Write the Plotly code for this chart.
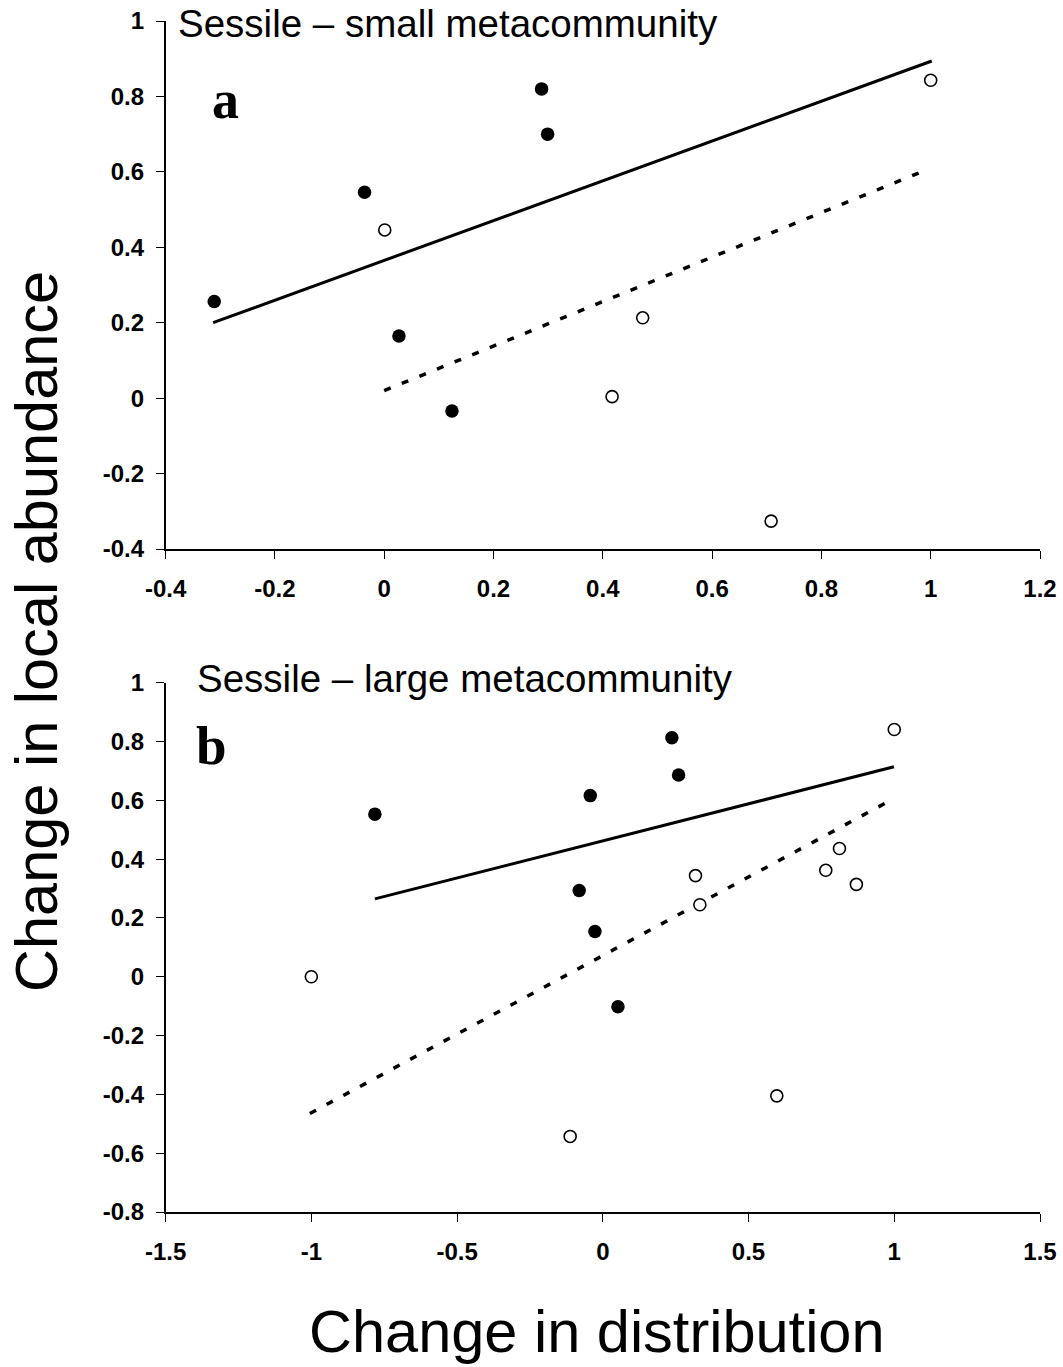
import plotly.graph_objects as go

# ---------------- data ----------------
# Panel a: Sessile - small metacommunity
a_filled_x = [-0.311, -0.036, 0.027, 0.124, 0.288, 0.299]
a_filled_y = [0.256, 0.546, 0.165, -0.034, 0.820, 0.700]
a_open_x = [0.001, 0.417, 0.473, 0.708, 1.0]
a_open_y = [0.446, 0.004, 0.213, -0.326, 0.843]
a_solid_x = [-0.313, 1.002]
a_solid_y = [0.200, 0.894]
a_dash_x = [0.0, 0.995]
a_dash_y = [0.020, 0.607]

# Panel b: Sessile - large metacommunity
b_filled_x = [-0.782, -0.081, -0.043, -0.027, 0.052, 0.237, 0.260]
b_filled_y = [0.553, 0.293, 0.616, 0.154, -0.102, 0.813, 0.686]
b_open_x = [-1.0, -0.112, 0.318, 0.333, 0.597, 0.765, 0.812, 0.870, 1.0]
b_open_y = [0.0, -0.543, 0.344, 0.245, -0.405, 0.362, 0.436, 0.314, 0.841]
b_solid_x = [-0.782, 0.999]
b_solid_y = [0.265, 0.714]
b_dash_x = [-1.005, 0.993]
b_dash_y = [-0.465, 0.603]

# tick labels
a_xticks = [-0.4, -0.2, 0, 0.2, 0.4, 0.6, 0.8, 1, 1.2]
a_xlabels = ["-0.4", "-0.2", "0", "0.2", "0.4", "0.6", "0.8", "1", "1.2"]
a_yticks = [-0.4, -0.2, 0, 0.2, 0.4, 0.6, 0.8, 1]
a_ylabels = ["-0.4", "-0.2", "0", "0.2", "0.4", "0.6", "0.8", "1"]
b_xticks = [-1.5, -1, -0.5, 0, 0.5, 1, 1.5]
b_xlabels = ["-1.5", "-1", "-0.5", "0", "0.5", "1", "1.5"]
b_yticks = [-0.8, -0.6, -0.4, -0.2, 0, 0.2, 0.4, 0.6, 0.8, 1]
b_ylabels = ["-0.8", "-0.6", "-0.4", "-0.2", "0", "0.2", "0.4", "0.6", "0.8", "1"]

panel_titles = ["Sessile \u2013 small metacommunity", "Sessile \u2013 large metacommunity"]
panel_letters = ["a", "b"]
x_title = "Change in distribution"
y_title = "Change in local abundance"

# ---------------- figure ----------------
W, H = 1063, 1367
fig = go.Figure()

line_kw = dict(color="black", width=3)


def add_panel(xa, ya, fx, fy, ox, oy, sx, sy, dx, dy):
    fig.add_trace(go.Scatter(x=sx, y=sy, mode="lines", line=line_kw,
                             xaxis=xa, yaxis=ya, showlegend=False, hoverinfo="skip"))
    fig.add_trace(go.Scatter(x=dx, y=dy, mode="lines",
                             line=dict(color="black", width=3.5, dash="7px,12px"),
                             xaxis=xa, yaxis=ya, showlegend=False, hoverinfo="skip"))
    fig.add_trace(go.Scatter(x=fx, y=fy, mode="markers",
                             marker=dict(color="black", size=13.5, line=dict(width=0)),
                             xaxis=xa, yaxis=ya, showlegend=False, cliponaxis=False))
    fig.add_trace(go.Scatter(x=ox, y=oy, mode="markers",
                             marker=dict(color="white", size=12,
                                         line=dict(color="black", width=1.6)),
                             xaxis=xa, yaxis=ya, showlegend=False, cliponaxis=False))


add_panel("x", "y", a_filled_x, a_filled_y, a_open_x, a_open_y,
          a_solid_x, a_solid_y, a_dash_x, a_dash_y)
add_panel("x2", "y2", b_filled_x, b_filled_y, b_open_x, b_open_y,
          b_solid_x, b_solid_y, b_dash_x, b_dash_y)

tick_font = dict(family="Liberation Sans, Arial, sans-serif", size=24,
                 color="black", weight="bold")


def px_x(p):
    return p / W


def px_y(p):
    return 1 - p / H


xdom = [px_x(165.6), px_x(1040)]
common = dict(showgrid=False, zeroline=False, showline=True, linecolor="black",
              linewidth=1.5, ticks="outside", ticklen=8, tickwidth=1.3,
              tickcolor="black", tickfont=tick_font, mirror=False, automargin=False)

fig.update_layout(
    width=W, height=H,
    margin=dict(l=0, r=0, t=0, b=0, pad=0, autoexpand=False),
    paper_bgcolor="white", plot_bgcolor="white",
    xaxis=dict(domain=xdom, range=[-0.4, 1.2], tickvals=a_xticks, ticktext=a_xlabels,
               anchor="y", ticklabelstandoff=9, **common),
    yaxis=dict(domain=[px_y(549), px_y(21)], range=[-0.4, 1], tickvals=a_yticks,
               ticktext=a_ylabels, anchor="x", ticklabelstandoff=7, **common),
    xaxis2=dict(domain=xdom, range=[-1.5, 1.5], tickvals=b_xticks, ticktext=b_xlabels,
                anchor="y2", ticklabelstandoff=9, **common),
    yaxis2=dict(domain=[px_y(1212), px_y(682.7)], range=[-0.8, 1], tickvals=b_yticks,
                ticktext=b_ylabels, anchor="x2", ticklabelstandoff=7, **common),
)

sans = "Liberation Sans, Arial, sans-serif"
serif = "Liberation Serif, Times New Roman, serif"

annots = [
    dict(text=panel_titles[0], x=px_x(176), y=px_y(24), xanchor="left", yanchor="middle",
         font=dict(family=sans, size=38.5, color="black")),
    dict(text=panel_titles[1], x=px_x(195), y=px_y(678), xanchor="left", yanchor="middle",
         font=dict(family=sans, size=38.5, color="black")),
    dict(text=panel_letters[0], x=px_x(210), y=px_y(100), xanchor="left", yanchor="middle",
         font=dict(family=serif, size=54, color="black", weight="bold")),
    dict(text=panel_letters[1], x=px_x(194), y=px_y(746), xanchor="left", yanchor="middle",
         font=dict(family=serif, size=55, color="black", weight="bold")),
    dict(text=x_title, x=px_x(597), y=px_y(1331), xanchor="center", yanchor="middle",
         font=dict(family=sans, size=59.5, color="black")),
    dict(text=y_title, x=px_x(37), y=px_y(632), xanchor="center", yanchor="middle",
         textangle=-90, font=dict(family=sans, size=59.5, color="black")),
]
for a in annots:
    a.update(xref="paper", yref="paper", showarrow=False)
fig.update_layout(annotations=annots)

fig.write_html("out.html")
